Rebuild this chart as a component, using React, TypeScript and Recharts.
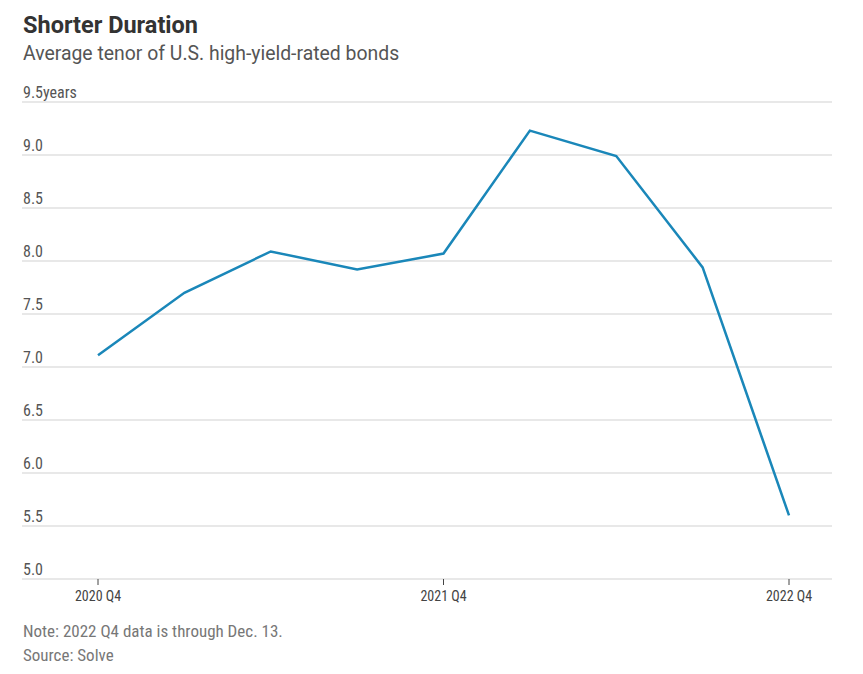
import { LineChart, Line, XAxis, YAxis, CartesianGrid } from 'recharts';

const quarters = ['2020 Q4', '2021 Q1', '2021 Q2', '2021 Q3', '2021 Q4', '2022 Q1', '2022 Q2', '2022 Q3', '2022 Q4'];
const tenorYears = [7.11, 7.7, 8.09, 7.92, 8.07, 9.23, 8.99, 7.94, 5.6];
const yTicks = [5.0, 5.5, 6.0, 6.5, 7.0, 7.5, 8.0, 8.5, 9.0, 9.5];

const data = quarters.map((q, i) => ({ quarter: q, tenor: tenorYears[i] }));

const narrow = '"Liberation Sans Narrow", "Roboto Condensed", Roboto, sans-serif';

const renderYTick = (props: any) => {
  const { y, payload } = props;
  const v = payload.value as number;
  const label = v === 9.5 ? '9.5years' : v.toFixed(1);
  return (
    <text x={23} y={y - 4} fill="#555" fontSize={16} fontFamily={narrow} textAnchor="start">
      {label}
    </text>
  );
};

export default function App() {
  return (
    <div style={{ position: 'absolute', left: 0, top: 0, width: 863, height: 674, background: '#fff' }}>
      <div style={{ position: 'absolute', left: 23, top: 11, fontFamily: 'Roboto, sans-serif', fontWeight: 700, fontSize: 23.5, color: '#333' }}>
        Shorter Duration
      </div>
      <div style={{ position: 'absolute', left: 23, top: 42, fontFamily: 'Roboto, sans-serif', fontSize: 19.4, color: '#555' }}>
        Average tenor of U.S. high-yield-rated bonds
      </div>
      <LineChart
        width={863}
        height={674}
        data={data}
        margin={{ top: 102, right: 31, left: 21, bottom: 65 }}
      >
        <CartesianGrid vertical={false} stroke="#e8e8e8" strokeWidth={2} />
        <XAxis
          dataKey="quarter"
          interval={3}
          padding={{ left: 76, right: 43 }}
          axisLine={false}
          tickLine={{ stroke: '#444' }}
          tickSize={6}
          tickMargin={6}
          height={30}
          tick={{ fontSize: 14, fill: '#444', fontFamily: narrow }}
        />
        <YAxis
          domain={[5, 9.5]}
          ticks={yTicks}
          width={1}
          axisLine={false}
          tickLine={false}
          tick={renderYTick}
          interval={0}
        />
        <Line
          type="linear"
          dataKey="tenor"
          stroke="#1a87b9"
          strokeWidth={2.5}
          dot={false}
          isAnimationActive={false}
        />
      </LineChart>
      <div style={{ position: 'absolute', left: 23, top: 621, fontFamily: narrow, fontSize: 17, color: '#777' }}>
        Note: 2022 Q4 data is through Dec. 13.
      </div>
      <div style={{ position: 'absolute', left: 23, top: 645, fontFamily: narrow, fontSize: 17, color: '#777' }}>
        Source: Solve
      </div>
    </div>
  );
}
